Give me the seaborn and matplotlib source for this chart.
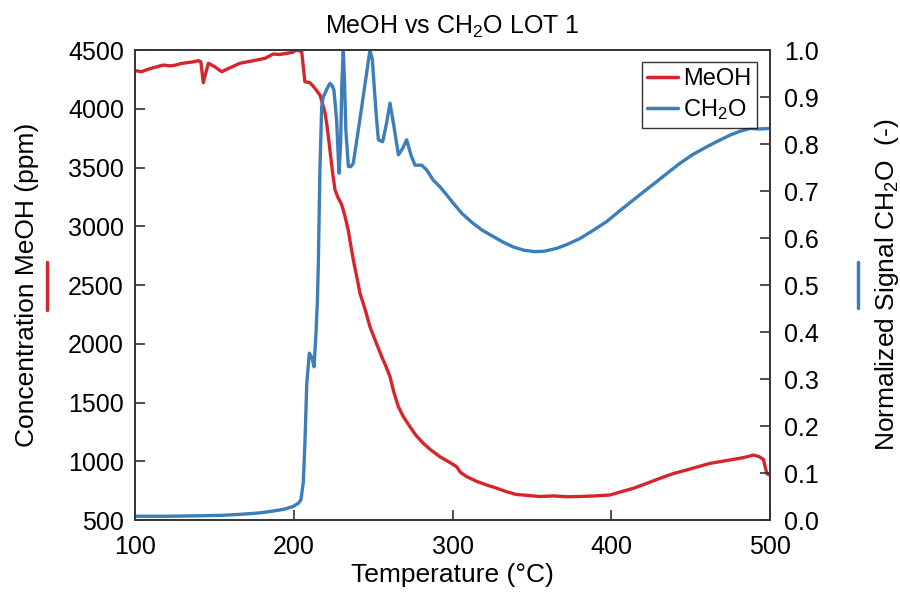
import matplotlib
matplotlib.use("Agg")
import matplotlib.pyplot as plt
import seaborn as sns
import numpy as np
from matplotlib.lines import Line2D

# ---- data ----
meoh_T = [100, 104, 108, 113, 117.8, 122, 125, 129, 132.6, 136, 139.9, 141.5, 143, 144.5, 146.2, 150,
          154.6, 160, 166, 171, 176.6, 182, 187, 191, 195.6, 199, 201.8, 205, 207, 210.2, 213, 216.5,
          218, 219.7, 221, 222.8, 224.5, 226, 228, 230, 232, 234.3, 236, 238, 240, 241.7, 245, 248,
          251, 255.4, 258, 260.6, 263, 265.9, 269, 273.2, 277, 281.6, 286, 292, 297, 302.6, 305, 309,
          315, 321.5, 328, 334, 340, 346.7, 355, 363.5, 372, 380.3, 390, 399.2, 406, 413.9, 422,
          430.7, 439, 447.5, 455, 462.2, 470, 476.9, 483, 489.5, 493, 495.8, 498, 500]
meoh_C = [4325, 4315, 4335, 4355, 4372, 4365, 4370, 4385, 4392, 4398, 4409, 4400, 4222, 4300, 4387,
          4360, 4315, 4350, 4387, 4400, 4415, 4430, 4466, 4462, 4472, 4480, 4500, 4486, 4230, 4222,
          4180, 4117, 4050, 3964, 3850, 3649, 3450, 3309, 3240, 3190, 3100, 2968, 2830, 2680, 2550,
          2430, 2290, 2145, 2040, 1890, 1810, 1720, 1590, 1464, 1380, 1294, 1220, 1153, 1100, 1039,
          1000, 954, 905, 869, 830, 798, 770, 741, 718, 710, 700, 705, 698, 700, 705, 713, 740, 770,
          810, 855, 895, 926, 955, 982, 1000, 1016, 1030, 1053, 1040, 1016, 895, 880]

ch2o_T = [100, 120, 140, 155, 166, 178, 187, 194, 199.7, 203, 204.5, 206, 207, 208.2, 209.8, 211.5,
          212.8, 214, 214.9, 215.5, 216.5, 217.6, 218.5, 219.7, 221, 222.8, 224, 225.3, 227, 228.5, 229.5,
          230.3, 231.2, 232, 232.8, 234.4, 236, 237.5, 242, 245, 248, 249.5, 250.5, 252, 253.3, 256,
          258.5, 260.6, 263, 265.9, 268.5, 271.1, 274, 276.4, 280.6, 283.7, 287.9, 292.1, 296, 300.5,
          306, 313, 319, 325.7, 332, 338.3, 345, 352, 358, 365.6, 372, 380.3, 388, 397.1, 405, 413.9,
          421, 428.6, 436, 443.3, 451, 460.1, 467, 474.8, 481, 487.4, 493, 499, 500]
ch2o_S = [0.008, 0.008, 0.009, 0.010, 0.012, 0.015, 0.019, 0.023, 0.029, 0.036, 0.043, 0.08, 0.16,
          0.29, 0.355, 0.345, 0.326, 0.397, 0.468, 0.55, 0.75, 0.879, 0.90, 0.908, 0.918, 0.929,
          0.925, 0.915, 0.85, 0.738, 0.80, 0.93, 1.0, 0.93, 0.83, 0.752, 0.752, 0.759, 0.86, 0.93,
          1.0, 0.98, 0.93, 0.86, 0.809, 0.805, 0.845, 0.887, 0.84, 0.777, 0.79, 0.809, 0.775, 0.755,
          0.755, 0.745, 0.723, 0.709, 0.693, 0.674, 0.652, 0.631, 0.616, 0.603, 0.591, 0.581, 0.574,
          0.571, 0.572, 0.578, 0.586, 0.599, 0.615, 0.635, 0.657, 0.681, 0.700, 0.720, 0.740, 0.759,
          0.777, 0.794, 0.806, 0.819, 0.827, 0.833, 0.832, 0.833, 0.834]

x_ticks = [100, 200, 300, 400, 500]
left_ticks = [500, 1000, 1500, 2000, 2500, 3000, 3500, 4000, 4500]
right_ticks = [0.0, 0.1, 0.2, 0.3, 0.4, 0.5, 0.6, 0.7, 0.8, 0.9, 1.0]

RED = "#d7262b"
BLUE = "#3b7eb9"

sns.set_style("white")
plt.rcParams["font.family"] = ["Liberation Sans", "DejaVu Sans"]
plt.rcParams["mathtext.fontset"] = "custom"
plt.rcParams["mathtext.rm"] = "Liberation Sans"
plt.rcParams["mathtext.it"] = "Liberation Sans"
plt.rcParams["text.color"] = "black"
plt.rcParams["axes.labelcolor"] = "black"

fig = plt.figure(figsize=(9, 5.92), dpi=100)
ax = fig.add_axes([0.15, 0.1216, 0.7056, 0.7939])
ax2 = ax.twinx()

sns.lineplot(x=meoh_T, y=meoh_C, ax=ax, color=RED, linewidth=2.4, sort=False)
sns.lineplot(x=ch2o_T, y=ch2o_S, ax=ax2, color=BLUE, linewidth=2.4, sort=False)

ax.set_xlim(100, 500)
ax.set_ylim(500, 4500)
ax2.set_ylim(0, 1.0)
ax.set_xticks(x_ticks)
ax.set_yticks(left_ticks)
ax2.set_yticks(right_ticks)
ax2.set_yticklabels([f"{v:.1f}" for v in right_ticks])

for a in (ax, ax2):
    for s in a.spines.values():
        s.set_color("#333333")
        s.set_linewidth(1.2)
    a.tick_params(direction="in", length=7, width=1.2, color="#333333", labelsize=18,
                  labelcolor="black")
ax.tick_params(bottom=True, left=True, top=False, right=False)
ax2.tick_params(right=True, left=False, bottom=False, top=False)
ax.tick_params(axis="x", pad=11)
ax.tick_params(axis="y", pad=8)
ax2.tick_params(axis="y", pad=10)

ax.set_xlabel("Temperature (°C)", fontsize=19, labelpad=3)
ax.set_ylabel("Concentration MeOH (ppm)", fontsize=19, labelpad=21)
ax2.set_ylabel("Normalized Signal CH$_\\mathregular{2}$O  (-)", fontsize=19, labelpad=39)
ax.set_title("MeOH vs CH$_\\mathregular{2}$O LOT 1", fontsize=18, pad=12)

# colored series indicators beside axis titles
fig.add_artist(Line2D([47/900, 47/900], [1 - 262/592, 1 - 310/592], color=RED, lw=2.5))
fig.add_artist(Line2D([858/900, 858/900], [1 - 262/592, 1 - 308/592], color=BLUE, lw=2.5))

handles = [Line2D([], [], color=RED, lw=2.5), Line2D([], [], color=BLUE, lw=2.5)]
leg = ax2.legend(handles, ["MeOH", "CH$_\\mathregular{2}$O"], loc="upper right",
                 bbox_to_anchor=(0.9795, 0.9745), fontsize=17, frameon=True, fancybox=False,
                 edgecolor="black", handlelength=1.3, handletextpad=0.2, borderpad=0.25,
                 labelspacing=0.3, borderaxespad=0.0)
leg.get_frame().set_linewidth(1.0)

ax.grid(False)
ax2.grid(False)
fig.savefig("out.png", dpi=100, facecolor="white")
